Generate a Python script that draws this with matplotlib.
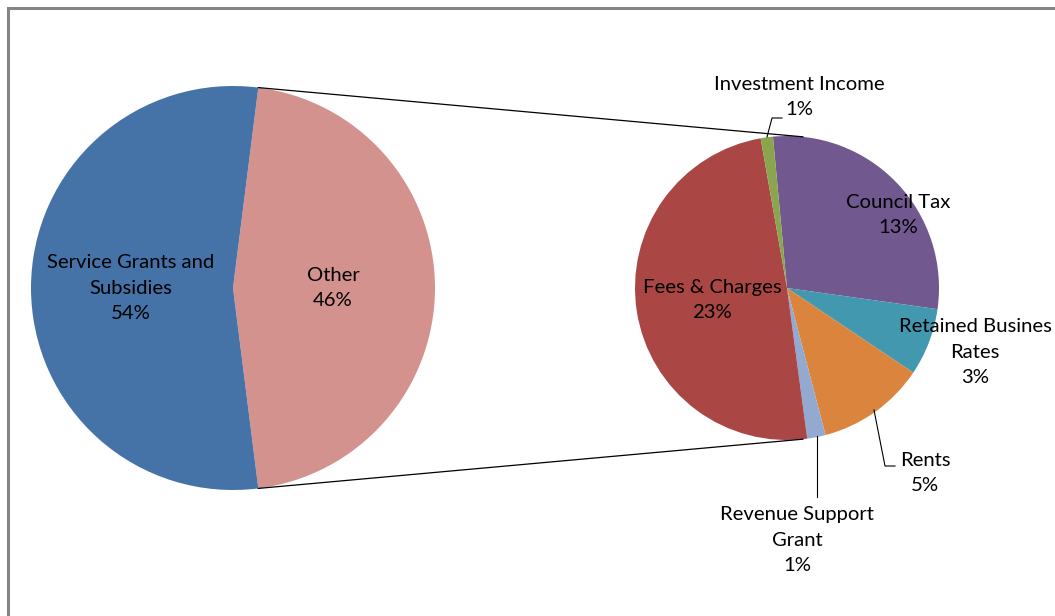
import numpy as np
import matplotlib
matplotlib.use("Agg")
import matplotlib.pyplot as plt
from matplotlib.patches import Rectangle

plt.rcParams['font.family'] = ['Lato', 'DejaVu Sans']

# main pie
main_labels = ["Other", "Service Grants and\nSubsidies"]
main_values = [46.0, 54.0]
main_colors = ["#D4928F", "#4572A7"]

# breakdown of "Other", clockwise from the top
sub_labels = ["Council Tax", "Retained Busines\nRates", "Rents",
              "Revenue Support\nGrant", "Fees & Charges", "Investment Income"]
sub_values = [13.2, 3.3, 5.3, 0.9, 22.7, 0.6]
sub_pct = ["13%", "3%", "5%", "1%", "23%", "1%"]
sub_colors = ["#71588F", "#4198AF", "#DB843D", "#93A9CF", "#AA4643", "#89A54E"]

W, H = 1055, 616
fig = plt.figure(figsize=(W / 100, H / 100), dpi=100)
ax = fig.add_axes([0, 0, 1, 1])

# chart frame (runs off the right/bottom edges)
ax.add_patch(Rectangle((8, -20), W + 20, H - 8 + 20, fill=False,
                       edgecolor="#858585", linewidth=2.2))

c1, r1 = (233, 328), 202
c2, r2 = (787, 328), 152
fs = 14.6

half = main_values[0] / sum(main_values) * 180
ax.pie(main_values, colors=main_colors, startangle=-half, counterclock=True,
       center=c1, radius=r1, frame=True, wedgeprops=dict(linewidth=0))

ax.pie(sub_values, colors=sub_colors, startangle=95.3, counterclock=False,
       center=c2, radius=r2, frame=True, wedgeprops=dict(linewidth=0))
ax.set_xlim(0, W)
ax.set_ylim(0, H)
ax.set_aspect("equal")
ax.axis("off")

# connector lines between the pies
for sgn in (1, -1):
    a1 = np.deg2rad(sgn * half)
    a2 = np.deg2rad(sgn * 84)
    ax.plot([c1[0] + r1 * np.cos(a1), c2[0] + r2 * np.cos(a2)],
            [c1[1] + r1 * np.sin(a1), c2[1] + r2 * np.sin(a2)],
            color="black", linewidth=0.9, zorder=3)

def P(x, y):
    return x, H - y

txt = dict(ha="center", va="center", fontsize=fs, color="black",
           linespacing=1.6, zorder=5)

ax.text(*P(131, 288), main_labels[1] + "\n54%", **txt)
ax.text(*P(333, 288), main_labels[0] + "\n46%", **txt)

ax.text(*P(898, 215), sub_labels[0] + "\n" + sub_pct[0], **txt)
ax.text(*P(975, 352), sub_labels[1] + "\n" + sub_pct[1], **txt)
ax.text(*P(925, 473), sub_labels[2] + "\n" + sub_pct[2], **txt)
ax.text(*P(797, 540), sub_labels[3] + "\n" + sub_pct[3], **txt)
ax.text(*P(712, 300), sub_labels[4] + "\n" + sub_pct[4], **txt)
ax.text(*P(799, 97), sub_labels[5] + "\n" + sub_pct[5], **txt)

# leader lines
lk = dict(color="black", linewidth=0.8, zorder=4)
ax.plot(*zip(P(767, 137), P(772, 118), P(782, 118)), **lk)
ax.plot(*zip(P(874, 410), P(885, 466), P(895, 466)), **lk)
ax.plot(*zip(P(817, 436), P(817, 497)), **lk)

fig.savefig("out.png", dpi=100)
